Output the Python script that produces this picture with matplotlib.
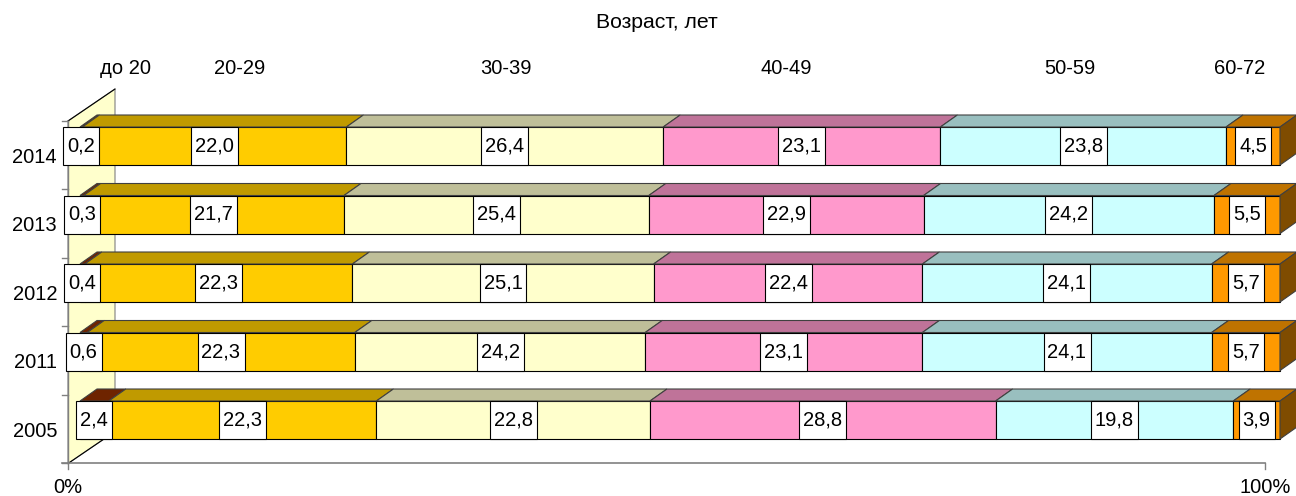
import matplotlib
matplotlib.use('Agg')
import matplotlib.pyplot as plt
from matplotlib.patches import Polygon, Rectangle

plt.rcParams['font.family'] = ['Liberation Sans', 'DejaVu Sans']

# data: share of staff by age group, %
years = ['2014', '2013', '2012', '2011', '2005']
age_groups = ['до 20', '20-29', '30-39', '40-49', '50-59', '60-72']
under20 = [0.2, 0.3, 0.4, 0.6, 2.4]
age20_29 = [22.0, 21.7, 22.3, 22.3, 22.3]
age30_39 = [26.4, 25.4, 25.1, 24.2, 22.8]
age40_49 = [23.1, 22.9, 22.4, 23.1, 28.8]
age50_59 = [23.8, 24.2, 24.1, 24.1, 19.8]
age60_72 = [4.5, 5.5, 5.7, 5.7, 3.9]
series = [under20, age20_29, age30_39, age40_49, age50_59, age60_72]

front_colors = ['#993300', '#FFCC00', '#FFFFCC', '#FF99CC', '#CCFFFF', '#FF9900']
top_colors = ['#6E2400', '#C09A00', '#BFBF99', '#BF7399', '#99BFBF', '#BF7300']
side_color = '#7F4C00'

# geometry (px per unit, 3D offsets)
PXX, PXY = 12.0, 68.5
H = 38 / PXY
DX, DY = 17 / PXX, -12 / PXY
FX, FY = -1.0, 0.135          # front frame offset vs bar plane
WDX, WDY = 47 / PXX, -32 / PXY

fig = plt.figure(figsize=(12.96, 4.96), dpi=100)
ax = fig.add_axes([0, 0, 1, 1])
ax.set_xlim(-80 / PXX, (1296 - 80) / PXX)
ax.set_ylim((496 - 146) / PXY, -146 / PXY)
ax.axis('off')

n = len(years)
y_top_frame = FY - 0.5
y_bot_frame = FY - 0.5 + n

# left side wall
wall = Polygon([(FX, y_bot_frame), (FX, y_top_frame), (FX + WDX, y_top_frame + WDY),
                (FX + WDX, y_bot_frame + WDY)], closed=True, facecolor='#FFFFCC',
               edgecolor='#808080', lw=0.8, zorder=1)
ax.add_patch(wall)
ax.plot([FX, FX + WDX], [y_top_frame, y_top_frame + WDY], color='black', lw=0.8, zorder=1.5)
ax.plot([FX, FX + WDX], [y_bot_frame, y_bot_frame + WDY], color='black', lw=0.8, zorder=1.5)

# axes lines
x100 = FX + 100 * (1197 / 1200)
ax.plot([FX - 0.5, x100], [y_bot_frame, y_bot_frame], color='#808080', lw=1.2, zorder=1.5)
ax.plot([FX, FX], [y_top_frame, y_bot_frame], color='#808080', lw=1.0, zorder=1.5)
for xt in (FX, x100):
    ax.plot([xt, xt], [y_bot_frame, y_bot_frame + 6 / PXY], color='#808080', lw=1.0)
for k in range(n + 1):
    yy = y_top_frame + k
    ax.plot([FX - 0.5, FX], [yy, yy], color='#808080', lw=1.0, zorder=1.5)
ax.text(FX, y_bot_frame + 24 / PXY, '0%', ha='center', va='center', fontsize=14.5)
ax.text(x100, y_bot_frame + 24 / PXY, '100%', ha='center', va='center', fontsize=14.5)
for i, yr in enumerate(years):
    ax.text(FX - 11 / PXX, i + FY + 0.03, yr, ha='right', va='center', fontsize=14.5)

# bars
labels = []
for i in range(n):
    left = 0.0
    for k, s in enumerate(series):
        v = s[i]
        ax.barh(i, v, left=left, height=H, color=front_colors[k], edgecolor='black',
                lw=0.8, zorder=3)
        yt = i - H / 2
        top = Polygon([(left, yt), (left + v, yt), (left + v + DX, yt + DY), (left + DX, yt + DY)],
                      closed=True, facecolor=top_colors[k], edgecolor='#404040', lw=0.8, zorder=3)
        ax.add_patch(top)
        t = ax.text(left + v / 2, i, f'{v:.1f}'.replace('.', ','), ha='center', va='center',
                    fontsize=14.5, zorder=6)
        labels.append((t, i))
        left += v
    yt, yb = i - H / 2, i + H / 2
    side = Polygon([(left, yt), (left + DX, yt + DY), (left + DX, yb + DY), (left, yb)],
                   closed=True, facecolor=side_color, edgecolor='#404040', lw=0.8, zorder=3)
    ax.add_patch(side)

# white label boxes spanning face height
fig.canvas.draw()
inv = ax.transData.inverted()
r = fig.canvas.get_renderer()
for t, i in labels:
    bb = t.get_window_extent(renderer=r)
    x0 = inv.transform((bb.x0 - 4, 0))[0]
    x1 = inv.transform((bb.x1 + 4, 0))[0]
    ax.add_patch(Rectangle((x0, i - H / 2), x1 - x0, H, facecolor='white',
                           edgecolor='black', lw=0.8, zorder=5))

# header texts
fig.text(657 / 1296, 1 - 22 / 496, 'Возраст, лет', ha='center', va='center', fontsize=15.3)
hdr_x = [125, 240, 506, 786, 1070, 1240]
for g, hx in zip(age_groups, hdr_x):
    fig.text(hx / 1296, 1 - 68 / 496, g, ha='center', va='center', fontsize=14.5)

fig.savefig('out.png', dpi=100)
